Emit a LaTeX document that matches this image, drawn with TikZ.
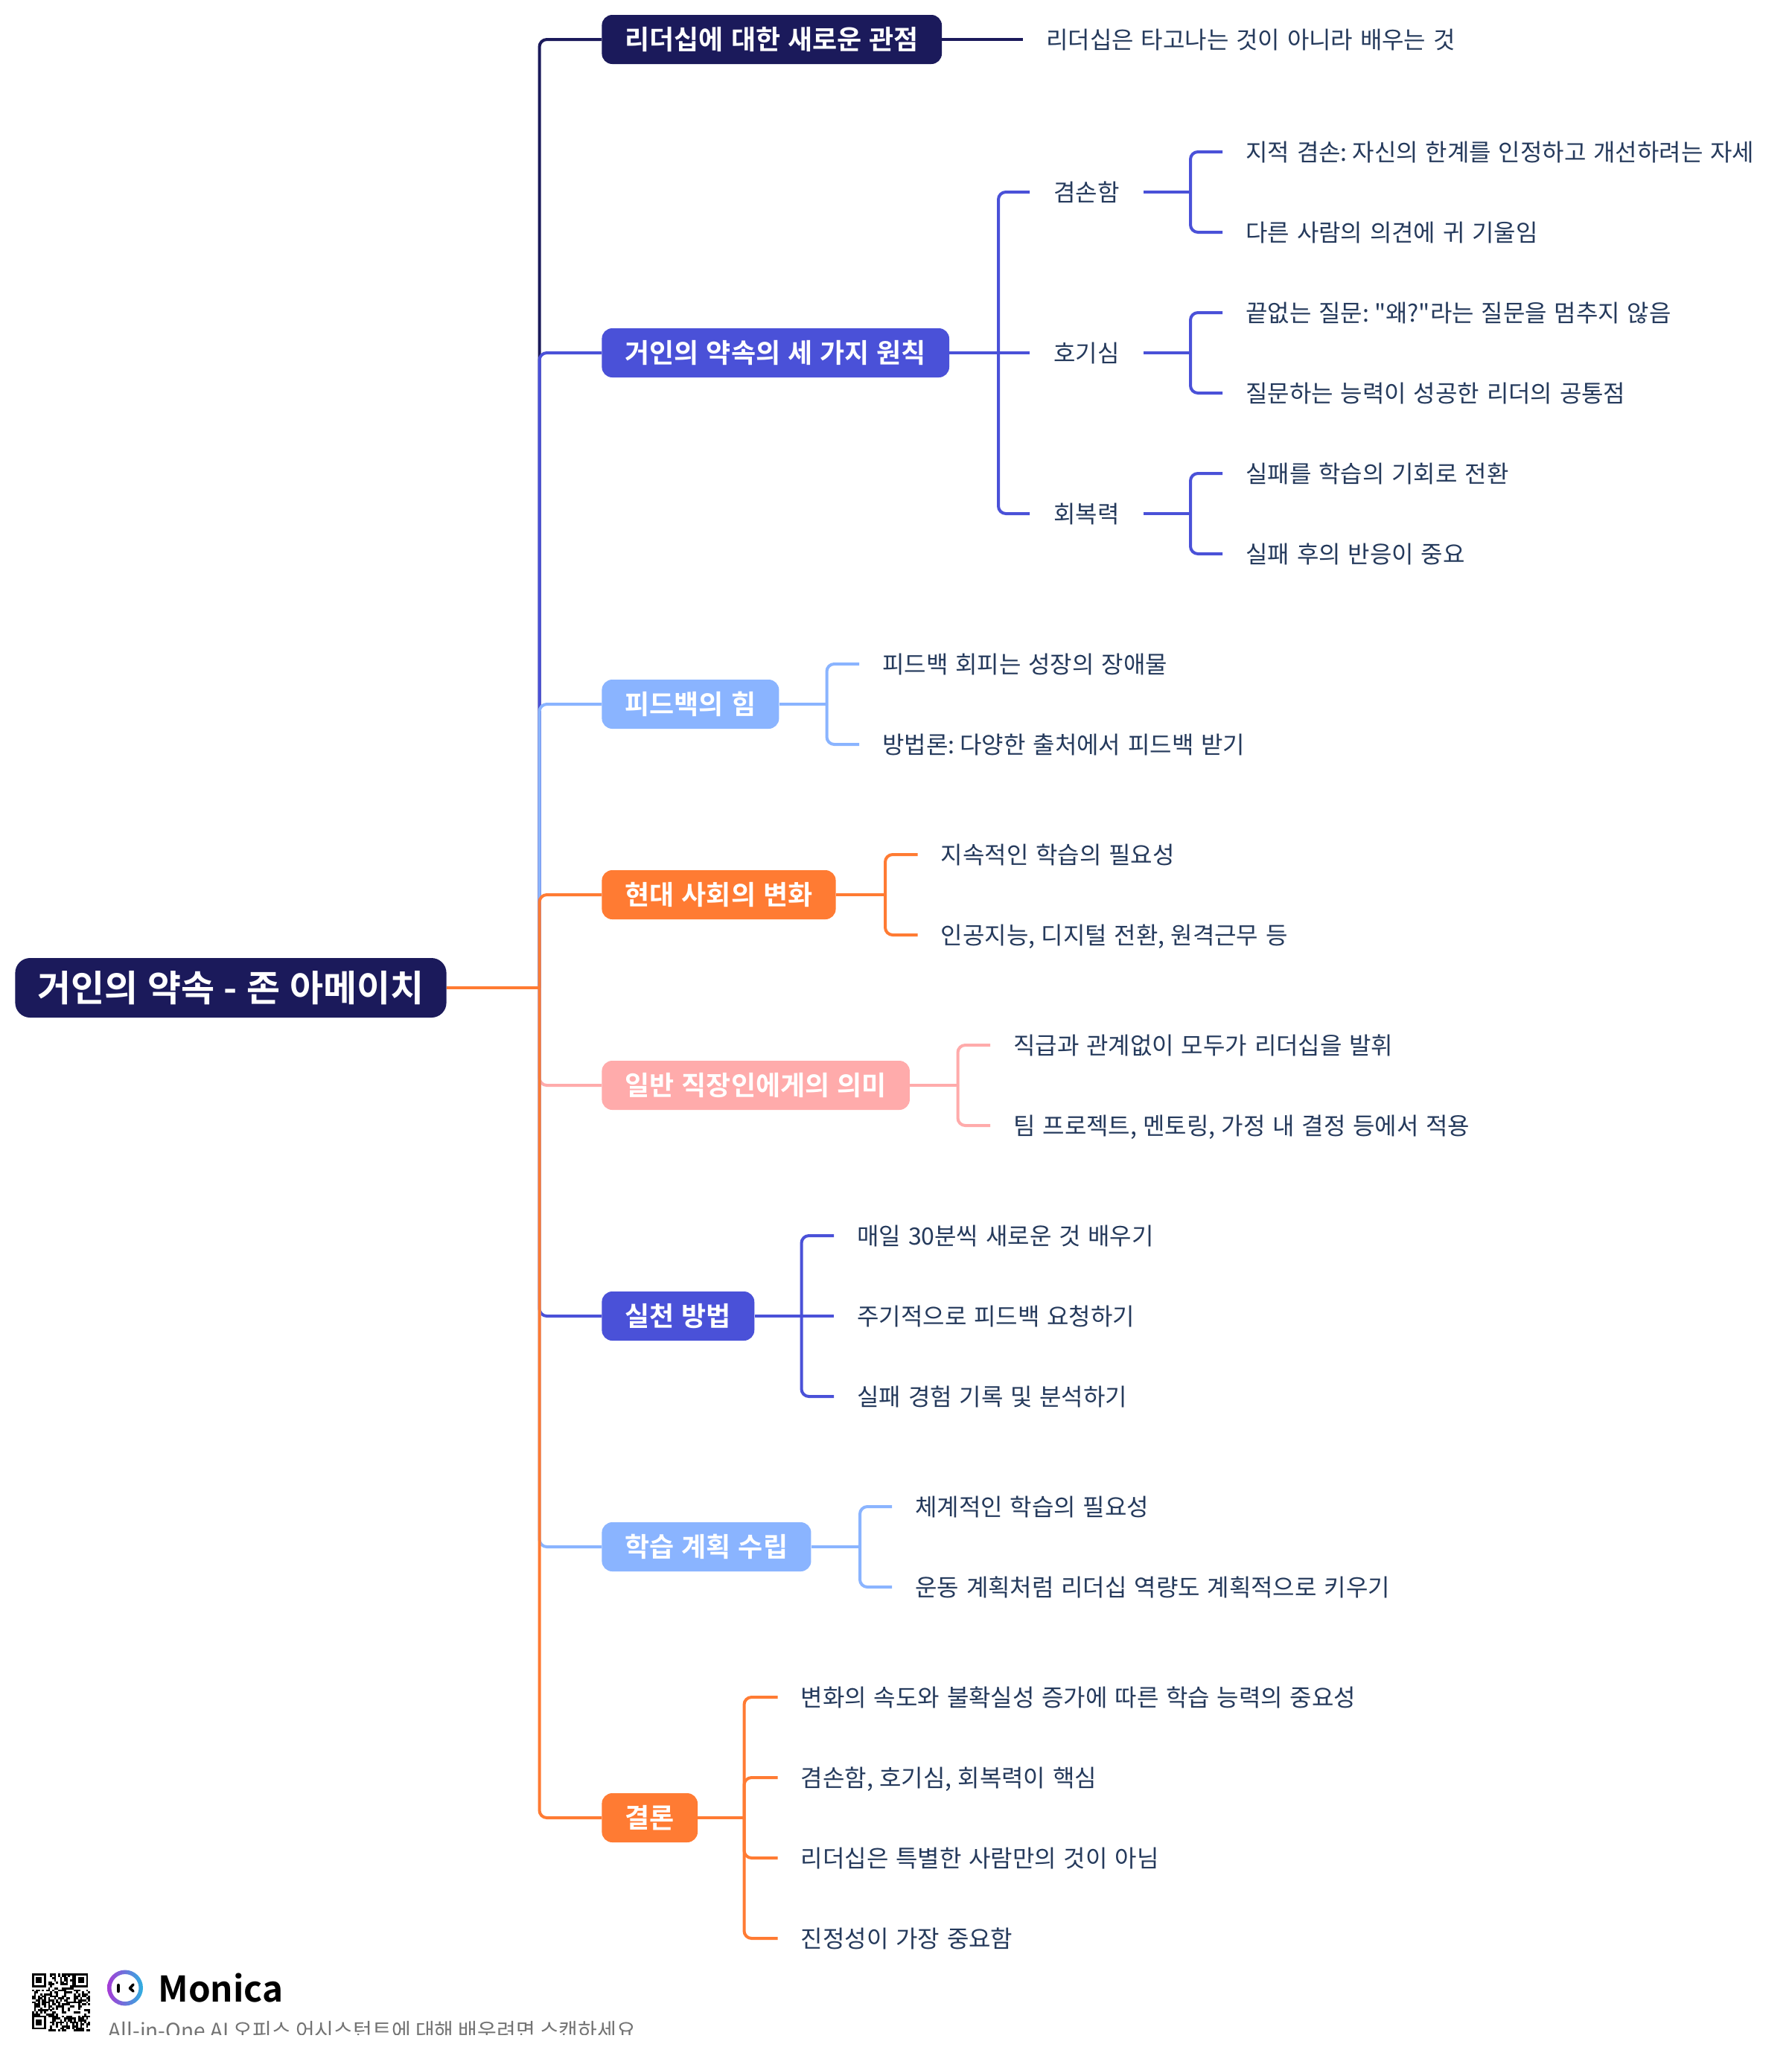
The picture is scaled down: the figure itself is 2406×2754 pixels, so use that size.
\documentclass[tikz,border=0pt]{standalone}
\usepackage{fontspec}
\setmainfont{Noto Sans CJK KR}[BoldFont={Noto Sans CJK KR Bold},Ligatures=TeXOff]
\newfontfamily\rootfont{Noto Sans CJK KR Bold}[WordSpace=1.13,Ligatures=TeXOff,Kerning=Off]
\newfontfamily\branchfont{Noto Sans CJK KR Bold}[WordSpace=1.22,Ligatures=TeXOff]
\newfontfamily\leaffont{Noto Sans CJK KR}[WordSpace=1.36,Ligatures=TeXOff]
\newfontfamily\tagfont{Noto Sans CJK KR}[WordSpace=1.0,Ligatures=TeXOff,Kerning=Off]
\newcommand{\colk}{\kern-2.6pt\relax}
\newcommand{\comk}{\kern-0.8pt\relax}
\definecolor{cnavy}{HTML}{1B1A5B}
\definecolor{cblue}{HTML}{4A51D8}
\definecolor{csky}{HTML}{8AB4FF}
\definecolor{corange}{HTML}{FF7B33}
\definecolor{cpink}{HTML}{FFABAB}
\definecolor{ctext}{HTML}{253A5C}
\definecolor{lpurple}{HTML}{A63BD6}
\definecolor{lblue}{HTML}{4F5BF0}
\definecolor{lcyan}{HTML}{2FB0E0}
\tikzset{
  x=0.5pt,y=-0.5pt,
  link/.style={line width=2pt,rounded corners=5pt},
  rootbox/.style={anchor=west,fill=cnavy,text=white,rounded corners=10pt,font=\rootfont\fontsize{24.5pt}{28pt}\selectfont,inner xsep=15pt,inner ysep=0pt,minimum height=40pt,text height=21.5pt,text depth=3pt},
  branch/.style={anchor=west,fill=#1,text=white,rounded corners=7pt,font=\branchfont\fontsize{18pt}{22pt}\selectfont,inner xsep=15.6pt,inner ysep=0pt,minimum height=33pt,text height=15.8pt,text depth=2.2pt},
  leaf/.style={anchor=west,text=ctext,font=\leaffont\fontsize{16pt}{20pt}\selectfont,inner xsep=15.5pt,inner ysep=0pt,text height=14pt,text depth=2pt},
  sublabel/.style={leaf,inner xsep=16pt},
}
\begin{document}
\begin{tikzpicture}
\useasboundingbox (0,0) rectangle (2406,2754);
\fill[white] (0,0) rectangle (2406,2754);
% nodes
\node[rootbox] (root) at (20,1327) {거인의 약속 - 존 아메이치};
\coordinate (t) at (724.5,1327);
\node[branch=cnavy] (b1) at (808,53) {리더십에 대한 새로운 관점};
\node[branch=cblue] (b2) at (808,474) {거인의 약속의 세 가지 원칙};
\node[branch=csky] (b3) at (808,946) {피드백의 힘};
\node[branch=corange] (b4) at (808,1202) {현대 사회의 변화};
\node[branch=cpink] (b5) at (808,1458) {일반 직장인에게의 의미};
\node[branch=cblue] (b6) at (808,1768) {실천 방법};
\node[branch=csky] (b7) at (808,2078) {학습 계획 수립};
\node[branch=corange] (b8) at (808,2442) {결론};
% trunk connectors, in drawing order
\draw[link,cnavy] (t) |- (b1.west);
\draw[link,cblue] (t) |- (b2.west);
\draw[link,csky] (t) |- (b3.west);
\draw[link,corange] (t) |- (b4.west);
\draw[link,cpink] (t) |- (b5.west);
\draw[link,cblue] (t) |- (b6.west);
\draw[link,csky] (t) |- (b7.west);
\draw[link,corange] (t) |- (b8.west);
\draw[link,corange] (root.east) -- (t);
% b1
\node[leaf] (l1) at (1374,53) {리더십은 타고나는 것이 아니라 배우는 것};
\draw[link,cnavy] (b1.east) -- (l1.west);
% b2
\coordinate (v2) at (1341,474);
\node[sublabel] (s1) at (1383,258) {겸손함};
\node[sublabel] (s2) at (1383,474) {호기심};
\node[sublabel] (s3) at (1383,690) {회복력};
\draw[link,cblue] (b2.east) -- (s2.west);
\draw[link,cblue] (v2) |- (s1.west);
\draw[link,cblue] (v2) |- (s3.west);
\coordinate (v21) at (1599,258);
\coordinate (v22) at (1599,474);
\coordinate (v23) at (1599,690);
\node[leaf] (s11) at (1642,204) {지적 겸손:\colk{} 자신의 한계를 인정하고 개선하려는 자세};
\node[leaf] (s12) at (1642,312) {다른 사람의 의견에 귀 기울임};
\node[leaf] (s21) at (1642,420) {끝없는 질문:\colk{} "왜?"라는 질문을 멈추지 않음};
\node[leaf] (s22) at (1642,528) {질문하는 능력이 성공한 리더의 공통점};
\node[leaf] (s31) at (1642,636) {실패를 학습의 기회로 전환};
\node[leaf] (s32) at (1642,744) {실패 후의 반응이 중요};
\draw[link,cblue] (s1.east) -- (v21);
\draw[link,cblue] (v21) |- (s11.west);
\draw[link,cblue] (v21) |- (s12.west);
\draw[link,cblue] (s2.east) -- (v22);
\draw[link,cblue] (v22) |- (s21.west);
\draw[link,cblue] (v22) |- (s22.west);
\draw[link,cblue] (s3.east) -- (v23);
\draw[link,cblue] (v23) |- (s31.west);
\draw[link,cblue] (v23) |- (s32.west);
% b3
\coordinate (v3) at (1110.5,946);
\node[leaf] (l31) at (1154,892) {피드백 회피는 성장의 장애물};
\node[leaf] (l32) at (1154,1000) {방법론:\colk{} 다양한 출처에서 피드백 받기};
\draw[link,csky] (b3.east) -- (v3);
\draw[link,csky] (v3) |- (l31.west);
\draw[link,csky] (v3) |- (l32.west);
% b4
\coordinate (v4) at (1189,1202);
\node[leaf] (l41) at (1232.5,1148) {지속적인 학습의 필요성};
\node[leaf] (l42) at (1232.5,1256) {인공지능,\comk{} 디지털 전환,\comk{} 원격근무 등};
\draw[link,corange] (b4.east) -- (v4);
\draw[link,corange] (v4) |- (l41.west);
\draw[link,corange] (v4) |- (l42.west);
% b5
\coordinate (v5) at (1286.5,1458);
\node[leaf] (l51) at (1330,1404) {직급과 관계없이 모두가 리더십을 발휘};
\node[leaf] (l52) at (1330,1512) {팀 프로젝트,\comk{} 멘토링,\comk{} 가정 내 결정 등에서 적용};
\draw[link,cpink] (b5.east) -- (v5);
\draw[link,cpink] (v5) |- (l51.west);
\draw[link,cpink] (v5) |- (l52.west);
% b6
\coordinate (v6) at (1076.5,1768);
\node[leaf] (l61) at (1120,1660) {매일 30분씩 새로운 것 배우기};
\node[leaf] (l62) at (1120,1768) {주기적으로 피드백 요청하기};
\node[leaf] (l63) at (1120,1876) {실패 경험 기록 및 분석하기};
\draw[link,cblue] (b6.east) -- (l62.west);
\draw[link,cblue] (v6) |- (l61.west);
\draw[link,cblue] (v6) |- (l63.west);
% b7
\coordinate (v7) at (1155,2078);
\node[leaf] (l71) at (1198,2024) {체계적인 학습의 필요성};
\node[leaf] (l72) at (1198,2132) {운동 계획처럼 리더십 역량도 계획적으로 키우기};
\draw[link,csky] (b7.east) -- (v7);
\draw[link,csky] (v7) |- (l71.west);
\draw[link,csky] (v7) |- (l72.west);
% b8
\coordinate (v8) at (999.5,2442);
\node[leaf] (l81) at (1044.5,2280) {변화의 속도와 불확실성 증가에 따른 학습 능력의 중요성};
\node[leaf] (l82) at (1044.5,2388) {겸손함,\comk{} 호기심,\comk{} 회복력이 핵심};
\node[leaf] (l83) at (1044.5,2496) {리더십은 특별한 사람만의 것이 아님};
\node[leaf] (l84) at (1044.5,2604) {진정성이 가장 중요함};
\draw[link,corange] (b8.east) -- (v8);
\draw[link,corange] (v8) |- (l81.west);
\draw[link,corange] (v8) |- (l82.west);
\draw[link,corange] (v8) |- (l83.west);
\draw[link,corange] (v8) |- (l84.west);
% footer: QR code
\begin{scope}[shift={(43,2651)}]
  \pgfmathsetseed{11}
  \foreach \i in {0,...,28}{\foreach \j in {0,...,28}{
    \pgfmathparse{rnd<0.5?1:0}
    \ifnum\pgfmathresult=1
      \fill[black] (\i*2.69,\j*2.69) rectangle ++(2.75,2.75);
    \fi
  }}
  \foreach \cx/\cy in {0/0,21/0,0/21}{
    \fill[white] (\cx*2.69,\cy*2.69) rectangle ++(21.5,21.5);
    \fill[black] (\cx*2.69,\cy*2.69) rectangle ++(18.83,18.83);
    \fill[white] (\cx*2.69+2.69,\cy*2.69+2.69) rectangle ++(13.45,13.45);
    \fill[black] (\cx*2.69+5.38,\cy*2.69+5.38) rectangle ++(8.07,8.07);
  }
\end{scope}
% footer: logo
\shade[even odd rule,left color=lpurple,middle color=lblue,right color=lcyan] (168,2670.5) circle[radius=24] (168,2670.5) circle[radius=18.5];
\draw[black,line width=2.2pt,line cap=round] (159,2667) -- (159,2675);
\draw[black,line width=1.8pt,line cap=round,line join=round] (179,2666) -- (174.5,2671) -- (179,2675);
\node[anchor=base west,inner sep=0pt,font=\bfseries\fontsize{23.8pt}{28pt}\selectfont,text=black] (brand) at (212,2689) {Monica};
\begin{scope}
  \clip (140,2700) rectangle (900,2733);
  \node[anchor=base west,inner sep=0pt,font=\tagfont\fontsize{14pt}{18pt}\selectfont,text=black!55] (tag) at (145,2738) {All-in-One AI 오피스 어시스턴트에 대해 배우려면 스캔하세요};
\end{scope}
\end{tikzpicture}
\end{document}
